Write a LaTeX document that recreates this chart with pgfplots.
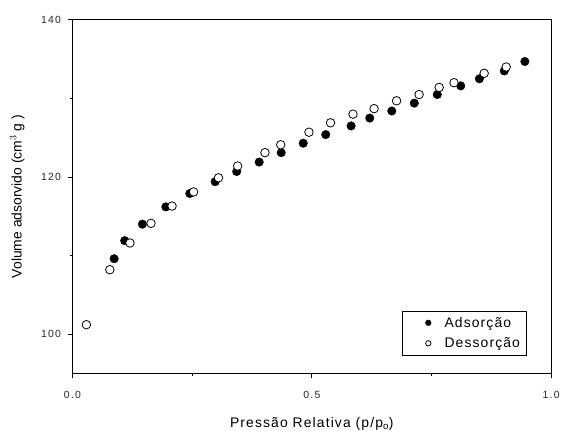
\documentclass[border=0pt]{standalone}
\usepackage{fontspec}
\setmainfont{Liberation Sans}
\usepackage{pgfplots}
\pgfplotsset{compat=1.18}
\begin{document}
\begin{tikzpicture}
\begin{axis}[
  scale only axis,
  width=482pt, height=356pt,
  xmin=0, xmax=1.0, ymin=95, ymax=140,
  xtick={0,0.5,1.0}, ytick={100,120,140},
  minor xtick={0.25,0.75}, minor ytick={110,130},
  xticklabels={0.0,0.5,1.0},
  tick align=outside,
  xtick pos=bottom, ytick pos=left,
  major tick length=5pt, minor tick length=3pt,
  tick style={black, line width=0.8pt},
  axis line style={line width=0.9pt},
  /pgf/number format/assume math mode=true,
  tick label style={font=\fontsize{10.5}{12}\selectfont\addfontfeature{LetterSpace=12}, text=black!85},
  xticklabel style={yshift=-9pt},
  yticklabel style={xshift=-3pt},
  xlabel={Pressão Relativa (p/p$_\mathrm{o}$)},
  ylabel={Volume adsorvido (cm$^{3}$ g )},
  label style={font=\fontsize{14}{16}\selectfont},
  xlabel style={yshift=-12pt, font=\fontsize{14}{16}\selectfont\addfontfeature{LetterSpace=8}},
  ylabel style={yshift=10pt},
  legend image code/.code={%
    \path (0pt,0pt) (36pt,0pt);
    \draw[#1, mark size=2.7pt] plot coordinates {(22pt,0pt)};},
  legend style={at={(axis cs:0.948,97.3)}, anchor=south east, draw=black, line width=0.8pt,
    font=\fontsize{14}{16}\selectfont\addfontfeature{LetterSpace=8}, inner xsep=4pt, inner ysep=4pt, row sep=5pt},
  legend cell align=left,
]
\addplot[only marks, mark=*, mark size=4.3pt, mark options={fill=black, draw=black}] coordinates {
(0.087,109.6) (0.109,111.9) (0.146,114.0) (0.195,116.2) (0.245,117.9) (0.298,119.4)
(0.343,120.7) (0.390,121.9) (0.436,123.1) (0.482,124.3) (0.529,125.4) (0.582,126.5)
(0.621,127.5) (0.667,128.4) (0.714,129.4) (0.762,130.5) (0.811,131.6) (0.850,132.5)
(0.902,133.5) (0.945,134.7)
};
\addlegendentry{Adsorção}
\addplot[only marks, mark=*, mark size=4.3pt, mark options={fill=white, draw=black, line width=0.8pt}] coordinates {
(0.029,101.2) (0.078,108.2) (0.120,111.6) (0.164,114.1) (0.208,116.3) (0.253,118.1)
(0.305,119.9) (0.345,121.4) (0.402,123.1) (0.435,124.1) (0.494,125.7) (0.539,126.9)
(0.586,128.0) (0.630,128.7) (0.677,129.7) (0.724,130.5) (0.766,131.4) (0.797,132.0)
(0.860,133.2) (0.906,134.0)
};
\addlegendentry{Dessorção}
\end{axis}
\path (current axis.south west) ++(-73pt,-53pt) rectangle ++(563pt,429pt);
\end{tikzpicture}
\end{document}
